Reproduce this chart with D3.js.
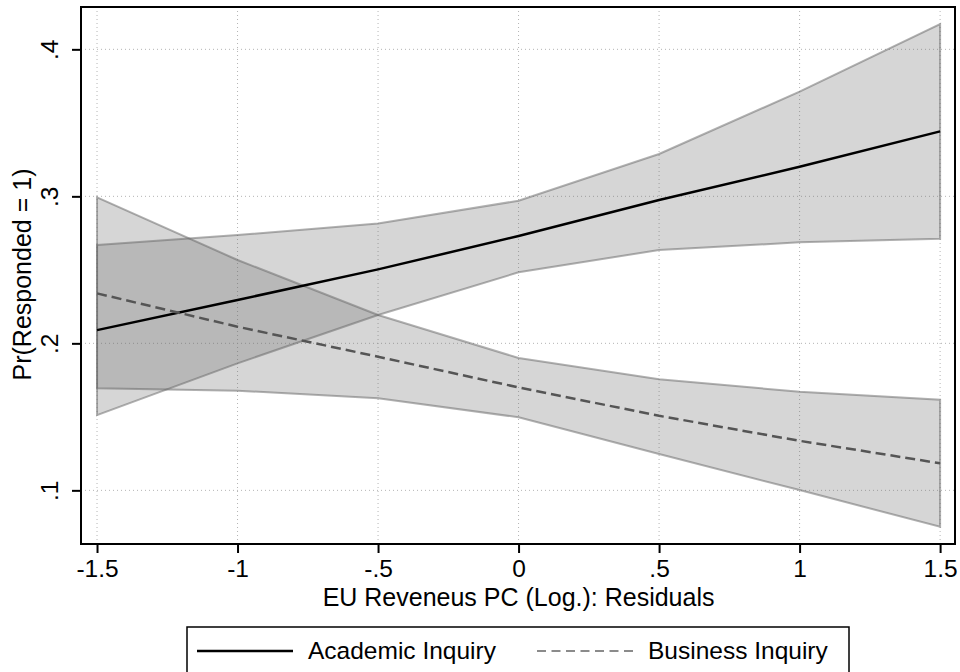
<!DOCTYPE html>
<html>
<head>
<meta charset="utf-8">
<script src="https://cdn.jsdelivr.net/npm/d3@7"></script>
<style>
    body { margin: 0; background: #fff; }
    svg { display: block; font-family: "Liberation Sans", Arial, sans-serif; }
    .grid line { stroke: #b4b4b4; stroke-width: 1; stroke-dasharray: 1,3; }
</style>
</head>
<body>
<div id="chart"></div>
<script>
// values
const xValues = [-1.5, -1, -0.5, 0, 0.5, 1, 1.5];

const academicMean  = [0.209, 0.2295, 0.2503, 0.273, 0.2975, 0.3201, 0.3442];
const academicLower = [0.1512, 0.1864, 0.2193, 0.2483, 0.2635, 0.2687, 0.2712];
const academicUpper = [0.2669, 0.2737, 0.2816, 0.297, 0.3288, 0.3712, 0.4172];

const businessMean  = [0.234, 0.2113, 0.1909, 0.170, 0.1507, 0.1337, 0.1184];
const businessLower = [0.1694, 0.1678, 0.1626, 0.1497, 0.1247, 0.1002, 0.0752];
const businessUpper = [0.2993, 0.2567, 0.2193, 0.190, 0.1755, 0.1671, 0.1616];

const xTicks = [-1.5, -1, -0.5, 0, 0.5, 1, 1.5];
const xTickLabels = ["-1.5", "-1", "-.5", "0", ".5", "1", "1.5"];
const yTicks = [0.1, 0.2, 0.3, 0.4];
const yTickLabels = [".1", ".2", ".3", ".4"];

const seriesNames = ["Academic Inquiry", "Business Inquiry"];

class MarginsChart {
    constructor(_parentElement) {
        this.parentElement = _parentElement;
        this.initVis();
    }

    initVis() {
        const vis = this;
        vis.margin = { LEFT: 81, RIGHT: 5, TOP: 7, BOTTOM: 128 };
        vis.width = 960 - vis.margin.LEFT - vis.margin.RIGHT;
        vis.height = 672 - vis.margin.TOP - vis.margin.BOTTOM;

        vis.svg = d3.select(vis.parentElement).append("svg")
            .attr("width", 960)
            .attr("height", 672);

        vis.g = vis.svg.append("g")
            .attr("transform", `translate(${vis.margin.LEFT}, ${vis.margin.TOP})`);

        vis.x = d3.scaleLinear()
            .domain([-1.557, 1.553])
            .range([0, vis.width]);

        vis.y = d3.scaleLinear()
            .domain([0.0635, 0.4288])
            .range([vis.height, 0]);

        // grid
        vis.g.append("g")
            .attr("class", "grid")
            .selectAll("line.v")
            .data(xTicks)
            .enter().append("line")
            .attr("x1", d => vis.x(d)).attr("x2", d => vis.x(d))
            .attr("y1", 0).attr("y2", vis.height);

        vis.g.append("g")
            .attr("class", "grid")
            .selectAll("line.h")
            .data(yTicks)
            .enter().append("line")
            .attr("x1", 0).attr("x2", vis.width)
            .attr("y1", d => vis.y(d)).attr("y2", d => vis.y(d));

        vis.drawBands();
        vis.drawLines();
        vis.drawAxes();
        vis.drawLegend();
    }

    drawBands() {
        const vis = this;
        const area = d3.area()
            .x(d => vis.x(d.x))
            .y0(d => vis.y(d.lo))
            .y1(d => vis.y(d.hi));

        const bands = [
            xValues.map((x, i) => ({ x: x, lo: academicLower[i], hi: academicUpper[i] })),
            xValues.map((x, i) => ({ x: x, lo: businessLower[i], hi: businessUpper[i] }))
        ];

        vis.g.selectAll("path.band")
            .data(bands)
            .enter().append("path")
            .attr("class", "band")
            .attr("d", d => area(d) + "Z")
            .attr("fill", "rgb(100,100,100)")
            .attr("fill-opacity", 0.265)
            .attr("stroke", "rgb(100,100,100)")
            .attr("stroke-opacity", 0.5)
            .attr("stroke-width", 2);
    }

    drawLines() {
        const vis = this;
        const line = d3.line()
            .x(d => vis.x(d.x))
            .y(d => vis.y(d.y));

        vis.g.append("path")
            .attr("d", line(xValues.map((x, i) => ({ x: x, y: academicMean[i] }))))
            .attr("fill", "none")
            .attr("stroke", "#000")
            .attr("stroke-width", 2.5);

        vis.g.append("path")
            .attr("d", line(xValues.map((x, i) => ({ x: x, y: businessMean[i] }))))
            .attr("fill", "none")
            .attr("stroke", "#555")
            .attr("stroke-width", 2.5)
            .attr("stroke-dasharray", "10,5");
    }

    drawAxes() {
        const vis = this;

        // frame
        vis.g.append("rect")
            .attr("x", 0).attr("y", 0)
            .attr("width", vis.width).attr("height", vis.height)
            .attr("fill", "none")
            .attr("stroke", "#000")
            .attr("stroke-width", 2);

        const xAxisCall = d3.axisBottom(vis.x)
            .tickValues(xTicks)
            .tickSize(9)
            .tickPadding(7)
            .tickFormat((d, i) => xTickLabels[i]);
        const xAxisGroup = vis.g.append("g")
            .attr("transform", `translate(0, ${vis.height})`)
            .call(xAxisCall);
        xAxisGroup.select(".domain").remove();
        xAxisGroup.selectAll("line").attr("stroke", "#000").attr("stroke-width", 2);
        xAxisGroup.selectAll("text")
            .attr("fill", "#000")
            .attr("font-size", "24.5px")
            .attr("font-family", "Liberation Sans, Arial, sans-serif");

        const yAxisCall = d3.axisLeft(vis.y)
            .tickValues(yTicks)
            .tickSize(9)
            .tickFormat((d, i) => yTickLabels[i]);
        const yAxisGroup = vis.g.append("g").call(yAxisCall);
        yAxisGroup.select(".domain").remove();
        yAxisGroup.selectAll("line").attr("stroke", "#000").attr("stroke-width", 2);
        yAxisGroup.selectAll("text")
            .attr("fill", "#000")
            .attr("font-size", "24.5px")
            .attr("font-family", "Liberation Sans, Arial, sans-serif")
            .attr("x", 0)
            .attr("y", -23)
            .attr("dy", 0)
            .attr("text-anchor", "middle")
            .attr("transform", "rotate(-90)");

        // X label
        vis.g.append("text")
            .attr("x", (vis.x(-1.5) + vis.x(1.5)) / 2)
            .attr("y", vis.height + 62)
            .attr("font-size", "25px")
            .attr("text-anchor", "middle")
            .text("EU Reveneus PC (Log.): Residuals");

        // Y label
        vis.g.append("text")
            .attr("x", -(vis.height / 2) + 1)
            .attr("y", -50)
            .attr("font-size", "25px")
            .attr("text-anchor", "middle")
            .attr("transform", "rotate(-90)")
            .text("Pr(Responded = 1)");
    }

    drawLegend() {
        const vis = this;
        const legend = vis.svg.append("g");

        legend.append("rect")
            .attr("x", 187).attr("y", 627)
            .attr("width", 662).attr("height", 70)
            .attr("fill", "#fff")
            .attr("stroke", "#000")
            .attr("stroke-width", 1.5);

        const items = [
            { name: seriesNames[0], x: 197, color: "#000", dash: null, width: 2.5 },
            { name: seriesNames[1], x: 537, color: "#666", dash: "9,5.5", width: 1.6 }
        ];

        items.forEach(d => {
            legend.append("line")
                .attr("x1", d.x).attr("x2", d.x + 96)
                .attr("y1", 651).attr("y2", 651)
                .attr("stroke", d.color)
                .attr("stroke-width", d.width)
                .attr("stroke-dasharray", d.dash);
            legend.append("text")
                .attr("x", d.x + 111)
                .attr("y", 659)
                .attr("font-size", "24.5px")
                .text(d.name);
        });
    }
}

new MarginsChart("#chart");
</script>
</body>
</html>
